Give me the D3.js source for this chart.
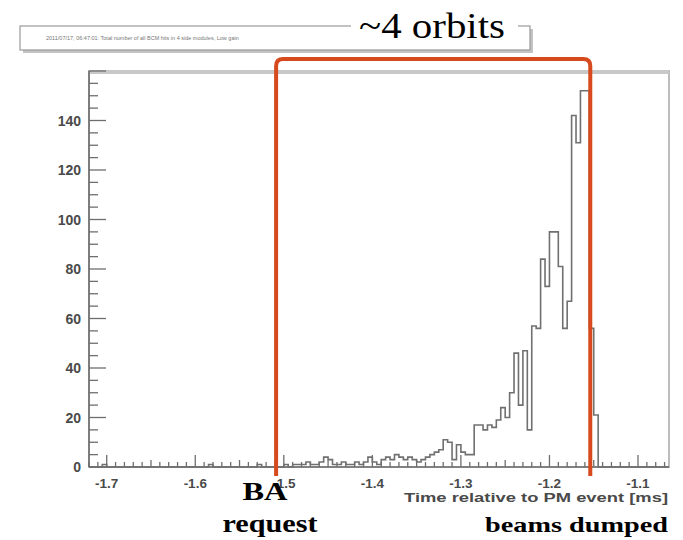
<!DOCTYPE html>
<html>
<head>
<meta charset="utf-8">
<script src="https://cdn.jsdelivr.net/npm/d3@7"></script>
<style>
  body { margin: 0; background: #fff; }
  svg { display: block; }
</style>
</head>
<body>
<div id="chart"></div>
<script>
var width = 683, height = 540;

// histogram: bins of 0.005 ms starting at -1.72 ms
var binStart = -1.72, binWidth = 0.005;
var counts = [
  0, 0, 0, 1, 0, 0, 0, 0, 0, 0,
  0, 0, 0, 0, 0, 0, 0, 0, 0, 0,
  0, 0, 0, 0, 0, 0, 0, 1, 0, 0,
  0, 0, 0, 0, 0, 0, 0, 0, 1, 0,
  0, 0, 0, 0, 1, 0, 1, 1, 1, 2,
  1, 1, 2, 4, 3, 1, 1, 2, 1, 1,
  2, 1, 2, 4, 2, 1, 3, 4, 3, 5,
  4, 3, 4, 3, 2, 3, 4, 5, 6, 7,
  11, 10, 3, 9, 6, 5, 5, 17, 17, 15,
  17, 16, 19, 24, 20, 30, 46, 25, 47, 15,
  57, 56, 84, 73, 95, 95, 81, 56, 67, 142,
  131, 152, 152, 56, 21, 0, 0, 0, 0, 0,
  0, 0, 0, 0, 0, 0, 0, 0, 0, 0, 0
];

var xTicks = [-1.7, -1.6, -1.5, -1.4, -1.3, -1.2, -1.1];
var yTicks = [0, 20, 40, 60, 80, 100, 120, 140];
var xDomain = [-1.72, -1.065], yDomain = [0, 160];

// annotations (ms)
var baRequest = -1.5087, beamsDumped = -1.1539;
var titleText = '2011/07/17, 06:47:01: Total number of all BCM hits in 4 side modules, Low gain';

var svg = d3.select('#chart').append('svg')
    .attr('width', width)
    .attr('height', height);

var x = d3.scaleLinear().domain(xDomain).range([89, 669]);
var y = d3.scaleLinear().domain(yDomain).range([467, 71]);

// title box with shadow
svg.append('rect').attr('x', 23).attr('y', 29).attr('width', 510).attr('height', 24)
    .attr('fill', '#c4c4c4');
svg.append('rect').attr('x', 20).attr('y', 26).attr('width', 510).attr('height', 24)
    .attr('fill', '#fff').attr('stroke', '#9a9a9a').attr('stroke-width', 1.2);
svg.append('text').attr('x', 46).attr('y', 40)
    .style('font-family', 'Liberation Sans, Arial, sans-serif')
    .style('font-size', '5.5px').style('fill', '#777')
    .text(titleText);

// frame
svg.append('rect')
    .attr('x', x.range()[0]).attr('y', y.range()[1])
    .attr('width', x.range()[1] - x.range()[0])
    .attr('height', y.range()[0] - y.range()[1])
    .attr('fill', '#fff').attr('stroke', '#bcbcbc').attr('stroke-width', 2);
svg.append('line')
    .attr('x1', x.range()[0]).attr('x2', x.range()[1])
    .attr('y1', y.range()[1] + 1).attr('y2', y.range()[1] + 1)
    .attr('stroke', '#c8c8c8').attr('stroke-width', 4);

var tickFont = 'Liberation Sans, Arial, Helvetica, sans-serif';

// y axis: ticks drawn inward
var yAxis = svg.append('g');
var yMinor = d3.range(0, 161, 5);
yAxis.selectAll('line.minor').data(yMinor).enter().append('line')
    .attr('x1', x.range()[0]).attr('x2', d => x.range()[0] + (d % 20 === 0 ? 17 : 9))
    .attr('y1', d => y(d)).attr('y2', d => y(d))
    .attr('stroke', '#6e6e6e').attr('stroke-width', 1.3);
yAxis.append('line')
    .attr('x1', x.range()[0]).attr('x2', x.range()[0])
    .attr('y1', y.range()[0]).attr('y2', y.range()[1])
    .attr('stroke', '#6e6e6e').attr('stroke-width', 1.6);
yAxis.selectAll('text').data(yTicks).enter().append('text')
    .attr('x', 81).attr('y', d => y(d) + 5)
    .attr('text-anchor', 'end')
    .style('font-family', tickFont).style('font-weight', 'bold')
    .style('font-size', '14px').style('fill', '#4a4a4a')
    .text(d => d);

// x axis
var xAxis = svg.append('g');
var xMinor = d3.range(-172, -106, 1).map(d => d / 100);
xAxis.selectAll('line.minor').data(xMinor).enter().append('line')
    .attr('x1', d => x(d)).attr('x2', d => x(d))
    .attr('y1', y.range()[0])
    .attr('y2', d => y.range()[0] - (Math.abs(Math.round(d * 100) % 10) === 0 ? 12 : (Math.abs(Math.round(d * 100) % 5) === 0 ? 7 : 5)))
    .attr('stroke', '#6e6e6e').attr('stroke-width', 1.3);
xAxis.append('line')
    .attr('x1', x.range()[0]).attr('x2', x.range()[1])
    .attr('y1', y.range()[0]).attr('y2', y.range()[0])
    .attr('stroke', '#6e6e6e').attr('stroke-width', 1.6);
xAxis.selectAll('text').data(xTicks).enter().append('text')
    .attr('x', d => x(d)).attr('y', 488)
    .attr('text-anchor', 'middle')
    .style('font-family', tickFont).style('font-weight', 'bold')
    .style('font-size', '13.5px').style('fill', '#4a4a4a')
    .text(d => d.toFixed(1));

svg.append('text')
    .attr('x', 668).attr('y', 502)
    .attr('text-anchor', 'end')
    .attr('textLength', 264).attr('lengthAdjust', 'spacingAndGlyphs')
    .style('font-family', tickFont).style('font-weight', 'bold')
    .style('font-size', '13.5px').style('fill', '#4a4a4a')
    .text('Time relative to PM event [ms]');

// histogram as step line
var pts = [[binStart, 0]];
counts.forEach(function (c, i) {
    var x0 = binStart + i * binWidth;
    pts.push([x0, c]);
    pts.push([x0 + binWidth, c]);
});
var line = d3.line().x(d => x(Math.min(d[0], xDomain[1]))).y(d => y(d[1]));
svg.append('path')
    .datum(pts)
    .attr('d', line)
    .attr('fill', 'none')
    .attr('stroke', '#707070')
    .attr('stroke-width', 1.6);

// red annotation bracket
var red = '#d64a1e';
var xl = x(baRequest), xr = x(beamsDumped), yt = 59, yb = 476, r = 7;
svg.append('path')
    .attr('d', 'M' + xl + ',' + yb + ' L' + xl + ',' + (yt + r) +
        ' Q' + xl + ',' + yt + ' ' + (xl + r) + ',' + yt +
        ' L' + (xr - r) + ',' + yt +
        ' Q' + xr + ',' + yt + ' ' + xr + ',' + (yt + r) +
        ' L' + xr + ',' + yb)
    .attr('fill', 'none').attr('stroke', red).attr('stroke-width', 4);

// "~4 orbits" label on white
svg.append('rect').attr('x', 351).attr('y', 0).attr('width', 167).attr('height', 47).attr('fill', '#fff');
var serif = 'Liberation Serif, "Times New Roman", serif';
svg.append('text').attr('x', 432).attr('y', 38).attr('text-anchor', 'middle')
    .attr('textLength', 146).attr('lengthAdjust', 'spacingAndGlyphs')
    .style('font-family', serif).style('font-size', '35px').style('fill', '#000')
    .text('~4 orbits');

svg.append('text').attr('x', 265).attr('y', 500).attr('text-anchor', 'middle')
    .attr('textLength', 45).attr('lengthAdjust', 'spacingAndGlyphs')
    .style('font-family', serif).style('font-weight', 'bold').style('font-size', '26px')
    .text('BA');
svg.append('text').attr('x', 270).attr('y', 532).attr('text-anchor', 'middle')
    .attr('textLength', 95).attr('lengthAdjust', 'spacingAndGlyphs')
    .style('font-family', serif).style('font-weight', 'bold').style('font-size', '26px')
    .text('request');
svg.append('text').attr('x', 668).attr('y', 532).attr('text-anchor', 'end')
    .attr('textLength', 183).attr('lengthAdjust', 'spacingAndGlyphs')
    .style('font-family', serif).style('font-weight', 'bold').style('font-size', '21px')
    .text('beams dumped');
</script>
</body>
</html>
